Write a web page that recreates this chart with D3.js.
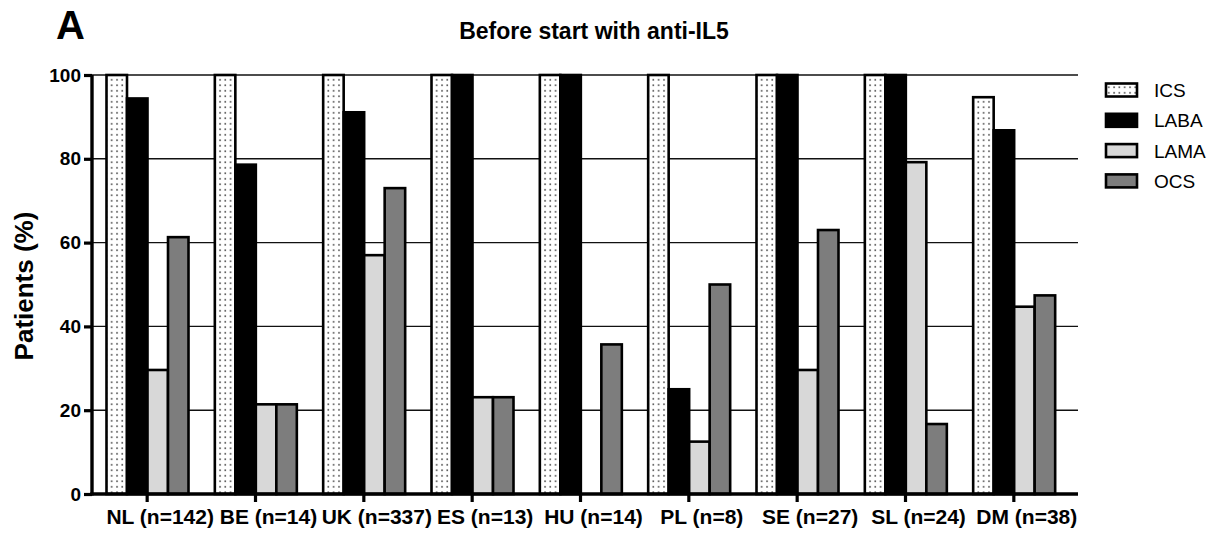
<!DOCTYPE html>
<html>
<head>
<meta charset="utf-8">
<script src="https://cdn.jsdelivr.net/npm/d3@7"></script>
<style>
  body { margin: 0; background: #fff; }
  text { font-family: "Liberation Sans", Arial, sans-serif; fill: #000; }
</style>
</head>
<body>
<script>
// data (percent of patients per country)
var countries = ['NL (n=142)', 'BE (n=14)', 'UK (n=337)', 'ES (n=13)', 'HU (n=14)',
		'PL (n=8)', 'SE (n=27)', 'SL (n=24)', 'DM (n=38)'];
var series = ['ICS', 'LABA', 'LAMA', 'OCS'];

var ics  = [100, 100, 100, 100, 100, 100, 100, 100, 94.7];
var laba = [94.4, 78.6, 91.1, 100, 100, 25, 100, 100, 86.8];
var lama = [29.6, 21.4, 57.0, 23.1, 0, 12.5, 29.6, 79.2, 44.7];
var ocs  = [61.3, 21.4, 73.0, 23.1, 35.7, 50, 63.0, 16.7, 47.4];

var yTicks = [0, 20, 40, 60, 80, 100];

var width = 1218,
		height = 535;

var fills = { ICS: 'url(#dots)', LABA: '#000', LAMA: '#d8d8d8', OCS: '#7d7d7d' };

// build rows for the grouped bars
var values = { ICS: ics, LABA: laba, LAMA: lama, OCS: ocs };
var rows = countries.map(function(c, i) {
	return { country: c, bars: series.map(function(s) { return { key: s, value: values[s][i] }; }) };
});

var svg = d3.select('body')
	.append('svg')
	.attr('width', width)
	.attr('height', height);

// dotted pattern for ICS
var pat = svg.append('defs').append('pattern')
	.attr('id', 'dots')
	.attr('patternUnits', 'userSpaceOnUse')
	.attr('width', 5.3)
	.attr('height', 5.5);
pat.append('rect').attr('width', 5.3).attr('height', 5.5).attr('fill', '#fff');
pat.append('rect').attr('x', 2).attr('y', 2).attr('width', 1.6).attr('height', 1.6).attr('fill', '#4a4a4a');

// scales
var x0 = d3.scaleBand().domain(countries).range([93, 1068]);
var x1 = d3.scaleBand().domain(series).range([13.5, 95.5]);
var y = d3.scaleLinear().domain([0, 100]).range([494, 75]);

var axisLeft = 92, axisRight = 1078;

// gridlines
svg.append('g')
	.selectAll('line')
	.data(yTicks.filter(function(d) { return d > 0; }))
	.enter().append('line')
	.attr('x1', axisLeft)
	.attr('x2', axisRight)
	.attr('y1', function(d) { return y(d); })
	.attr('y2', function(d) { return y(d); })
	.attr('stroke', '#111')
	.attr('stroke-width', 1.4);

// bars
svg.append('g')
	.selectAll('g')
	.data(rows)
	.enter().append('g')
	.attr('transform', function(d) { return 'translate(' + x0(d.country) + ',0)'; })
	.selectAll('rect')
	.data(function(d) { return d.bars.filter(function(b) { return b.value > 0; }); })
	.enter().append('rect')
	.attr('x', function(d) { return x1(d.key); })
	.attr('width', x1.bandwidth())
	.attr('y', function(d) { return y(d.value); })
	.attr('height', function(d) { return y(0) - y(d.value); })
	.attr('fill', function(d) { return fills[d.key]; })
	.attr('stroke', '#000')
	.attr('stroke-width', 2.6);

// y axis
var yAxis = d3.axisLeft(y)
	.tickValues(yTicks)
	.tickSize(8)
	.tickPadding(3);

var gy = svg.append('g')
	.attr('transform', 'translate(' + axisLeft + ',0)')
	.call(yAxis);
gy.select('.domain').attr('d', 'M0,' + y(100) + 'V' + (y(0) + 1.5)).attr('stroke-width', 3.4);
gy.selectAll('.tick line').attr('stroke-width', 3.2);
gy.selectAll('.tick text')
	.attr('font-size', 19)
	.attr('font-weight', 'bold')
	.attr('font-family', '"Liberation Sans", Arial, sans-serif')
	.attr('fill', '#000');

// x axis
var xAxis = d3.axisBottom(x0).tickSize(8).tickPadding(7);
var gx = svg.append('g')
	.attr('transform', 'translate(0,' + y(0) + ')')
	.call(xAxis);
gx.select('.domain').attr('d', 'M' + (axisLeft - 1.7) + ',0H' + axisRight).attr('stroke-width', 3.4);
gx.selectAll('.tick line').attr('stroke-width', 3.2);
gx.selectAll('.tick text')
	.attr('dx', 13)
	.attr('font-size', 21)
	.attr('font-weight', 'bold')
	.attr('font-family', '"Liberation Sans", Arial, sans-serif')
	.attr('fill', '#000');

// y axis title
svg.append('text')
	.attr('transform', 'translate(33,286) rotate(-90)')
	.attr('text-anchor', 'middle')
	.attr('font-size', 26)
	.attr('font-weight', 'bold')
	.text('Patients (%)');

// chart title and panel letter
svg.append('text')
	.attr('x', 594)
	.attr('y', 39)
	.attr('text-anchor', 'middle')
	.attr('font-size', 23)
	.attr('font-weight', 'bold')
	.text('Before start with anti-IL5');

svg.append('text')
	.attr('x', 56)
	.attr('y', 39)
	.attr('font-size', 40)
	.attr('font-weight', 'bold')
	.text('A');

// legend
var legend = svg.append('g')
	.selectAll('g')
	.data(series)
	.enter().append('g')
	.attr('transform', function(d, i) { return 'translate(1106,' + (90 + i * 30.3) + ')'; });

legend.append('rect')
	.attr('x', 0)
	.attr('y', -6.5)
	.attr('width', 31)
	.attr('height', 13)
	.attr('fill', function(d) { return fills[d]; })
	.attr('stroke', '#000')
	.attr('stroke-width', 2.6);

legend.append('text')
	.attr('x', 48)
	.attr('y', 7)
	.attr('font-size', 19)
	.text(function(d) { return d; });
</script>
</body>
</html>
